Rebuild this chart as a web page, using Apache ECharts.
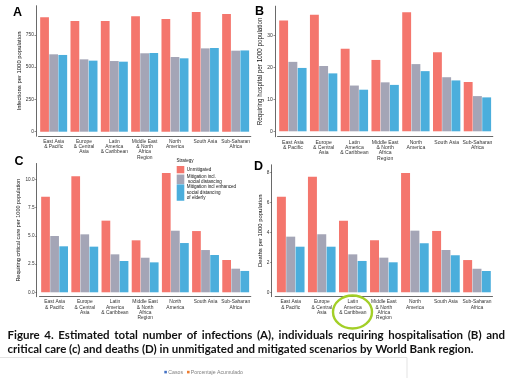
<!DOCTYPE html>
<html><head><meta charset="utf-8">
<script src="https://cdn.jsdelivr.net/npm/echarts@6/dist/echarts.min.js"></script>
<style>html,body{margin:0;padding:0;background:#fff}#c{width:510px;height:378px}</style>
</head><body><div id="c"></div>
<script>
// ---- data ----
const categories = ['East Asia\n& Pacific','Europe\n& Central\nAsia','Latin\nAmerica\n& Caribbean','Middle East\n& North\nAfrica\nRegion','North\nAmerica','South Asia','Sub-Saharan\nAfrica'];
const strategies = ['Unmitigated','Mitigation incl.\n social distancing','Mitigation incl enhanced\nsocial distancing\nof elderly'];

const infUnmitigated = [885,857,857,893,872,926,911];
const infSocial      = [599,560,547,607,578,645,627];
const infElderly     = [594,550,542,609,568,648,629];

const hospUnmitigated = [34.6,36.4,25.8,22.3,37.2,24.7,15.4];
const hospSocial      = [21.7,20.4,14.3,15.3,21.0,16.9,11.0];
const hospElderly     = [19.8,18.1,13.0,14.5,18.8,15.9,10.6];

const critUnmitigated = [8.46,10.27,6.34,4.60,10.56,5.42,2.86];
const critSocial      = [4.98,5.13,3.36,3.06,5.45,3.74,2.09];
const critElderly     = [4.07,4.04,2.77,2.65,4.36,3.30,1.89];

const deathUnmitigated = [6.37,7.71,4.77,3.47,7.95,4.09,2.15];
const deathSocial      = [3.71,3.87,2.53,2.31,4.11,2.82,1.57];
const deathElderly     = [3.04,3.04,2.09,2.00,3.27,2.47,1.42];

const infTicks   = [0,250,500,750];
const hospTicks  = [0,10,20,30];
const critTicks  = [0,2.5,5,7.5,10];
const deathTicks = [0,2,4,6,8];

const yTitles = ['Infections per 1000 population','Requiring hospital per 1000 population','Requiring critical care per 1000 population','Deaths per 1000 population'];
const panelLetters = ['A','B','C','D'];
const captionLine1 = 'Figure 4. Estimated total number of infections (A), individuals requiring hospitalisation (B) and';
const captionLine2 = 'critical care (c) and deaths (D) in unmitigated and mitigated scenarios by World Bank region.';
const bottomLegend = ['Casos','Porcentaje Acumulado'];

// ---- layout / style ----
const colors = ['#F4766D','#A4A5B6','#4BAEDC'];
const AX = '#444';
const FF = '"Liberation Sans", Arial, sans-serif';

const panels = [
  {series:[infUnmitigated,infSocial,infElderly], ticks:infTicks, fmt:v=>String(v),
   left:38.5, width:212.3, zeroY:131.7, ppu:0.1292, min:-35, max:975, offset:2.5,
   titleSize:5.9, nameGap:12.4, labelSize:4.9, tickSize:4.8, letter:[17.5,12.5]},
  {series:[hospUnmitigated,hospSocial,hospElderly], ticks:hospTicks, fmt:v=>String(v),
   left:277.5, width:215.3, zeroY:131.3, ppu:3.2, min:-1.7, max:39.1, offset:2.5,
   titleSize:6.3, nameGap:10.8, labelSize:5.1, tickSize:5, letter:[259.5,11.5]},
  {series:[critUnmitigated,critSocial,critElderly], ticks:critTicks, fmt:v=>v.toFixed(1),
   left:39.5, width:211.3, zeroY:292.3, ppu:11.3, min:-0.39, max:11.4, offset:2.8,
   titleSize:5.5, nameGap:13, labelSize:4.9, tickSize:4.7, letter:[19,161.5]},
  {series:[deathUnmitigated,deathSocial,deathElderly], ticks:deathTicks, fmt:v=>String(v),
   left:275.2, width:217.3, zeroY:292.3, ppu:15, min:-0.29, max:8.5, offset:3.5,
   titleSize:5.9, nameGap:7, labelSize:4.9, tickSize:4.8, letter:[258.5,167]}
];

const grids=[], xAxes=[], yAxes=[], series=[], graphics=[];
panels.forEach((p,i)=>{
  grids.push({left:p.left, width:p.width, top:p.zeroY - p.max*p.ppu, height:(p.max-p.min)*p.ppu, outerBoundsMode:'none', containLabel:false});
  xAxes.push({type:'category', gridIndex:i, data:categories,
    axisLine:{onZero:false, lineStyle:{color:AX, width:0.8}},
    axisTick:{alignWithLabel:true, length:1.5, lineStyle:{color:AX, width:0.6}},
    axisLabel:{interval:0, fontSize:p.labelSize, lineHeight:p.labelSize+0.3, margin:2.8, color:'#333', fontFamily:FF}});
  yAxes.push({type:'value', gridIndex:i, min:p.min, max:p.max, offset:p.offset,
    splitLine:{show:false},
    axisLine:{show:true, lineStyle:{color:AX, width:0.8}},
    axisTick:{show:true, length:1.5, customValues:p.ticks, lineStyle:{color:AX, width:0.6}},
    axisLabel:{customValues:p.ticks, formatter:v=>p.fmt(v), fontSize:p.tickSize, margin:2.2, color:'#333', fontFamily:FF},
    name:yTitles[i], nameLocation:'middle', nameRotate:90, nameGap:p.nameGap,
    nameTextStyle:{fontSize:p.titleSize, color:'#111', fontFamily:FF}});
  p.series.forEach((d,k)=>{
    series.push({type:'bar', name:strategies[k], xAxisIndex:i, yAxisIndex:i, data:d,
      barGap:'4%', barCategoryGap:'11%', itemStyle:{color:colors[k]}, silent:true});
  });
  graphics.push({type:'text', x:p.letter[0], y:p.letter[1],
    style:{text:panelLetters[i], fontSize:12.5, fontWeight:'bold', fontFamily:FF, fill:'#000', align:'center', verticalAlign:'middle'}});
});

// legend (three components so key heights follow the label heights)
const legKeys = [{top:166, h:7.3},{top:173.8, h:9.5},{top:184.3, h:16.4}];
const legends = legKeys.map((L,k)=>({data:[strategies[k]], orient:'vertical', left:176.7, top:L.top,
  itemWidth:7.6, itemHeight:L.h, itemGap:0, padding:0, icon:'rect', selectedMode:false,
  textStyle:{fontSize:4.6, lineHeight:5.5, color:'#111', fontFamily:FF, padding:[0,0,0,-2.5]}}));
graphics.push({type:'text', x:176.5, y:161, style:{text:'Strategy', fontSize:4.6, fontFamily:FF, fill:'#111', verticalAlign:'middle'}});

// caption (line 1 justified)
const capFont = 'bold 11.5px Lato';
const ctx = document.createElement('canvas').getContext('2d');
ctx.font = capFont;
const words = captionLine1.split(' ');
const widths = words.map(w=>ctx.measureText(w).width);
const x0 = 7.5, x1 = 505;
const gap = (x1 - x0 - widths.reduce((a,b)=>a+b,0))/(words.length-1);
let cx = x0;
words.forEach((w,j)=>{
  graphics.push({type:'text', x:cx, y:335, style:{text:w, font:capFont, fill:'#111', verticalAlign:'middle'}});
  cx += widths[j] + gap;
});
graphics.push({type:'text', x:x0, y:349.2, style:{text:captionLine2, font:capFont, fill:'#111', verticalAlign:'middle'}});

// green highlight circle
graphics.push({type:'ellipse', shape:{cx:352.5, cy:312, rx:19.5, ry:16.5}, style:{fill:null, stroke:'#A3CF27', lineWidth:2.4}, z:100});

// bottom embedded chart box with its tiny legend
graphics.push({type:'rect', shape:{x:-1, y:357.5, width:408, height:30}, style:{fill:null, stroke:'#dcdcdc', lineWidth:0.8}});
graphics.push({type:'rect', shape:{x:164.3, y:370.8, width:2.6, height:2.6}, style:{fill:'#4472C4'}});
graphics.push({type:'text', x:168.3, y:372.2, style:{text:bottomLegend[0], fontSize:5.2, fontFamily:FF, fill:'#808080', verticalAlign:'middle'}});
graphics.push({type:'rect', shape:{x:187, y:370.8, width:2.6, height:2.6}, style:{fill:'#ED7D31'}});
graphics.push({type:'text', x:190.8, y:372.2, style:{text:bottomLegend[1], fontSize:5.2, fontFamily:FF, fill:'#808080', verticalAlign:'middle'}});

const chart = echarts.init(document.getElementById('c'), null, {renderer:'canvas'});
chart.setOption({
  animation:false, backgroundColor:'#fff',
  grid:grids, xAxis:xAxes, yAxis:yAxes, series:series, legend:legends, graphic:graphics
});
</script></body></html>
